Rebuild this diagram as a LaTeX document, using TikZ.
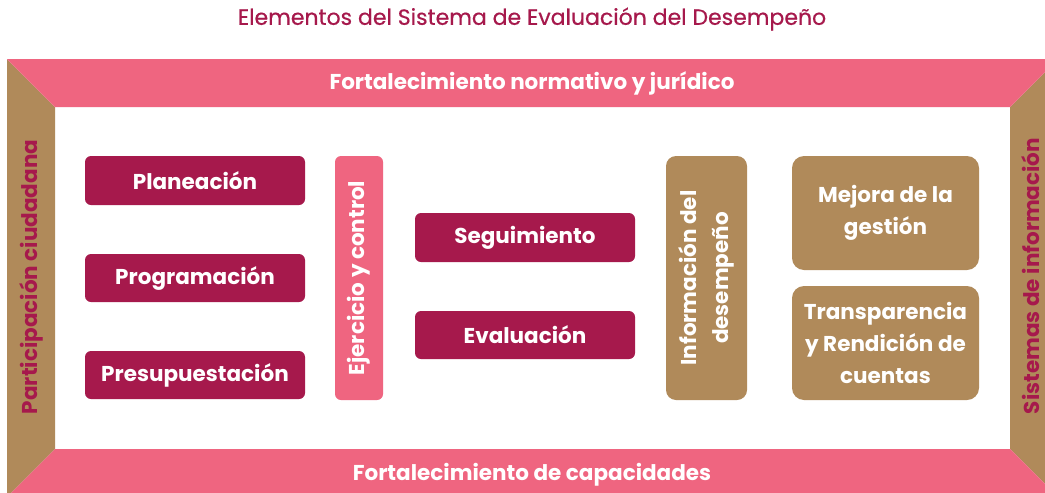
\documentclass[tikz,border=0pt]{standalone}
\usepackage{fontspec}
\setmainfont{Poppins}
\newfontfamily\titlefont[FakeBold=0.5]{Poppins}
\definecolor{mag}{HTML}{A6194C}
\definecolor{pinkc}{HTML}{EF6580}
\definecolor{tan}{HTML}{B08A5A}
\begin{document}
\begin{tikzpicture}[x=1pt,y=-1pt,
  lbl/.style={font=\bfseries\fontsize{21.5}{32}\selectfont, inner sep=0pt, align=center},
  box/.style={lbl, rounded corners=6pt, fill=mag, text=white, minimum width=220pt, minimum height=48pt},
  vbox/.style={lbl, rounded corners=6pt, text=white, rotate=90, minimum width=244pt},
  tbox/.style={lbl, rounded corners=12pt, fill=tan, text=white, minimum width=187pt, minimum height=114pt},
  bandtxt/.style={lbl, text=white},
  sidetxt/.style={lbl, text=mag, rotate=90},
]
\useasboundingbox (0,0) rectangle (1045,493);
\fill[white] (0,0) rectangle (1045,493);
% frame
\fill[tan] (7,59) -- (55,107) -- (55,449) -- (11,493) -- (7,493) -- cycle;
\fill[tan] (1045,72) -- (1010,107) -- (1010,449) -- (1045,484) -- cycle;
\fill[pinkc] (7,59) -- (1045,59) -- (1045,72) -- (1010,107) -- (55,107) -- cycle;
\fill[pinkc] (55,449) -- (1010,449) -- (1045,484) -- (1045,493) -- (11,493) -- cycle;
% title
\node[font=\titlefont\fontsize{22}{26}\selectfont, text=mag, inner sep=0pt] (title) at (532,19) {Elementos del Sistema de Evaluación del Desempeño};
\node[bandtxt] (top) at (532,83.5) {Fortalecimiento normativo y jurídico};
\node[bandtxt] (bottom) at (532,474.5) {Fortalecimiento de capacidades};
\node[sidetxt] (left) at (31,277) {Participación ciudadana};
\node[sidetxt] (right) at (1031,276) {Sistemas de información};
% boxes
\node[box, minimum height=49pt] (plan) at (195,180.5) {Planeación};
\node[box] (prog) at (195,278) {Programación};
\node[box] (pres) at (195,375) {Presupuestación};
\node[vbox, fill=pinkc, minimum height=48pt] (ejer) at (359,278) {Ejercicio y control};
\node[box, minimum height=49pt] (seg) at (525,237.5) {Seguimiento};
\node[box] (eval) at (525,335) {Evaluación};
\node[vbox, fill=tan, rounded corners=10pt, minimum height=81pt] (info) at (706.5,278) {Información del\\desempeño};
\node[tbox] (mej) at (885.5,213) {Mejora de la\\gestión};
\node[tbox] (tran) at (885.5,343) {Transparencia\\y Rendición de\\cuentas};
\end{tikzpicture}
\end{document}
